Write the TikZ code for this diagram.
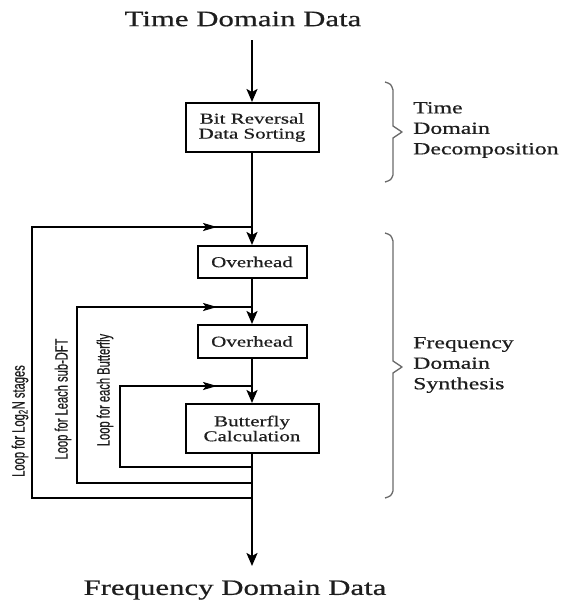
\documentclass[tikz,border=0pt]{standalone}
\usepackage{fontspec}
\setmainfont{Liberation Serif}
\newfontfamily\wideserif[FakeStretch=1.4,FakeBold=0.6]{Liberation Serif}
\newfontfamily\loopfont[FakeStretch=0.62,FakeBold=0.4]{Liberation Sans}
\usetikzlibrary{arrows.meta}
\definecolor{inkc}{HTML}{1E1E1E}
\definecolor{bracec}{HTML}{6A6A6A}
\begin{document}
\begin{tikzpicture}[x=1pt,y=-1pt,
  title/.style={text=inkc,font=\wideserif\fontsize{22}{24}\selectfont,inner sep=0pt},
  procbox/.style={draw=black,line width=2pt,inner sep=0pt,align=center,text=inkc,
     font=\wideserif\fontsize{15}{15}\selectfont},
  mainline/.style={line width=2pt,-{Stealth[length=13pt,width=11pt,inset=3pt]}},
  plainline/.style={line width=2pt},
  looparrow/.style={line width=2pt,-{Stealth[length=14pt,width=8pt,inset=3pt]}},
  looplabel/.style={rotate=90,text=inkc,inner sep=0pt,font=\loopfont\fontsize{18}{18}\selectfont},
  sidelabel/.style={anchor=west,align=left,text=inkc,inner sep=0pt,
     font=\wideserif\fontsize{17}{20.5}\selectfont},
  bracestyle/.style={draw=bracec,line width=1.3pt,line join=round}
]
\useasboundingbox[fill=white] (0,0) rectangle (570,603);

% titles
\node[title] (tdd) at (243,19) {Time Domain Data};
\node[title] (fdd) at (235,590) {Frequency Domain Data};

% boxes
\node[procbox,minimum width=133pt,minimum height=49pt] (bit) at (252,127.5) {Bit Reversal\\Data Sorting};
\node[procbox,minimum width=109pt,minimum height=32pt] (ov1) at (252,262) {Overhead};
\node[procbox,minimum width=109pt,minimum height=33pt] (ov2) at (252,341.5) {Overhead};
\node[procbox,minimum width=133pt,minimum height=49pt] (bf) at (252,428.5) {Butterfly\\Calculation};

% main flow coordinates
\coordinate (s0) at (252,40);
\coordinate (e0) at (252,566);

% outer loop
\coordinate (j1b) at (252,498);
\coordinate (c1b) at (32,498);
\coordinate (c1t) at (32,227);
\coordinate (a1) at (217,227);
\coordinate (j1t) at (252,227);
% middle loop
\coordinate (j2b) at (252,483);
\coordinate (c2b) at (77,483);
\coordinate (c2t) at (77,307);
\coordinate (a2) at (217,307);
\coordinate (j2t) at (252,307);
% inner loop
\coordinate (j3b) at (252,467);
\coordinate (c3b) at (120,467);
\coordinate (c3t) at (120,386);
\coordinate (a3) at (217,386);
\coordinate (j3t) at (252,386);

% main arrows
\draw[mainline] (s0) -- (bit);
\draw[mainline] (bit) -- (ov1);
\draw[mainline] (ov1) -- (ov2);
\draw[mainline] (ov2) -- (bf);
\draw[mainline] (bf) -- (e0);

% loops
\draw[plainline,line join=miter] (j1b) -- (c1b) -- (c1t) -- (a1);
\draw[looparrow] (c1t) -- (a1);
\draw[plainline] (a1) -- (j1t);
\draw[plainline,line join=miter] (j2b) -- (c2b) -- (c2t) -- (a2);
\draw[looparrow] (c2t) -- (a2);
\draw[plainline] (a2) -- (j2t);
\draw[plainline,line join=miter] (j3b) -- (c3b) -- (c3t) -- (a3);
\draw[looparrow] (c3t) -- (a3);
\draw[plainline] (a3) -- (j3t);

% loop labels
\node[looplabel] (l1) at (20,421) {Loop for Log\textsubscript{2}N stages};
\node[looplabel] (l2) at (63,399) {Loop for Leach sub-DFT};
\node[looplabel] (l3) at (105,390) {Loop for each Butterfly};

% braces
\draw[bracestyle] (385,82) .. controls (391,84) .. (393,90) -- (393,126) -- (402,132) -- (393,138) -- (393,175) .. controls (391,180) .. (385,182);
\draw[bracestyle] (385,233) .. controls (391,235) .. (393,241) -- (393,361) -- (402,367) -- (393,373) -- (393,491) .. controls (391,496) .. (385,498);

% side labels
\node[sidelabel] (tdec) at (413,130) {Time\\Domain\\Decomposition};
\node[sidelabel] (fsyn) at (413,365) {Frequency\\Domain\\Synthesis};
\end{tikzpicture}
\end{document}
